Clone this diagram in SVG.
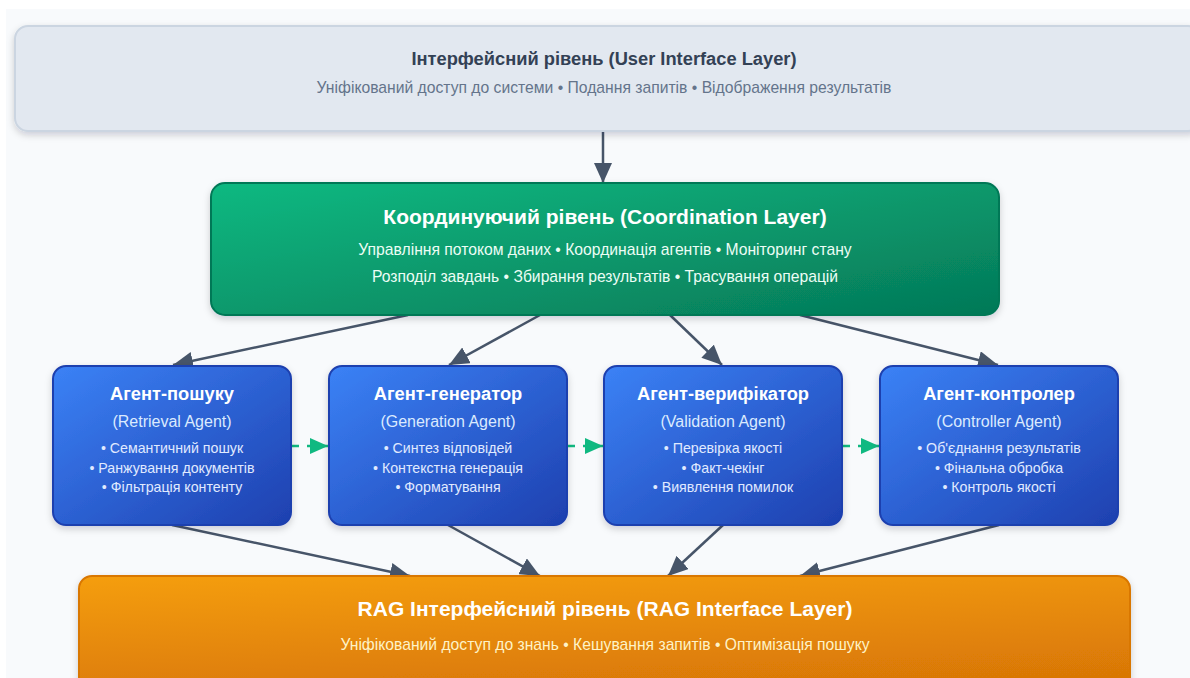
<svg xmlns="http://www.w3.org/2000/svg" width="1190" height="678" viewBox="0 0 1190 678">
  <defs>
    <style>
      .t { font-family: "Liberation Sans", Arial, sans-serif; text-anchor: middle; }
      .ui-title { font-size: 18.3px; font-weight: bold; fill: #334155; }
      .ui-sub { font-size: 15.7px; fill: #64748b; }
      .co-title { font-size: 21px; font-weight: bold; fill: #ffffff; }
      .co-sub { font-size: 15.7px; fill: #ecfdf5; }
      .ag-title { font-size: 18.3px; font-weight: bold; fill: #ffffff; }
      .ag-sub { font-size: 16px; fill: #dbeafe; }
      .ag-item { font-size: 14.2px; fill: #e0eaff; }
      .rag-title { font-size: 21px; font-weight: bold; fill: #ffffff; }
      .rag-sub { font-size: 15.7px; fill: #fef3c7; }
      .flow { stroke: #475569; stroke-width: 2.5; fill: none; marker-end: url(#arrow); }
      .pass { stroke: #10b981; stroke-width: 2.5; fill: none; stroke-dasharray: 8 8; marker-end: url(#arrow-green); }
    </style>
    <linearGradient id="g-green" x1="0" y1="0" x2="1" y2="1">
      <stop offset="0" stop-color="#10b981"/>
      <stop offset="1" stop-color="#047857"/>
    </linearGradient>
    <linearGradient id="g-blue" x1="0" y1="0" x2="1" y2="1">
      <stop offset="0" stop-color="#3b82f6"/>
      <stop offset="1" stop-color="#1e40af"/>
    </linearGradient>
    <linearGradient id="g-orange" x1="0" y1="0" x2="0.3" y2="1">
      <stop offset="0" stop-color="#f59e0b"/>
      <stop offset="1" stop-color="#d97706"/>
    </linearGradient>
    <filter id="shadow" x="-10%" y="-20%" width="120%" height="150%">
      <feDropShadow dx="0" dy="3" stdDeviation="3.5" flood-color="#0f172a" flood-opacity="0.18"/>
    </filter>
    <marker id="arrow" markerUnits="userSpaceOnUse" markerWidth="22" markerHeight="18" refX="20" refY="9" orient="auto">
      <path d="M0,0 L20,9 L0,18 Z" fill="#475569"/>
    </marker>
    <marker id="arrow-green" markerUnits="userSpaceOnUse" markerWidth="20" markerHeight="16" refX="18" refY="8" orient="auto">
      <path d="M0,0 L18,8 L0,16 Z" fill="#10b981"/>
    </marker>
  </defs>

  <!-- canvas -->
  <rect x="0" y="0" width="1190" height="678" fill="#ffffff"/>
  <rect x="6" y="9" width="1184" height="669" fill="#f8fafc"/>

  <!-- connectors -->
  <g id="connectors">
    <line class="flow" x1="603" y1="131" x2="603" y2="183"/>
    <line class="flow" x1="408" y1="315" x2="173" y2="365"/>
    <line class="flow" x1="540" y1="315" x2="449" y2="365"/>
    <line class="flow" x1="670" y1="315" x2="722" y2="365"/>
    <line class="flow" x1="800" y1="315" x2="998" y2="365"/>
    <line class="flow" x1="172" y1="525" x2="410" y2="576"/>
    <line class="flow" x1="448" y1="525" x2="540" y2="576"/>
    <line class="flow" x1="723" y1="525" x2="668" y2="576"/>
    <line class="flow" x1="999" y1="525" x2="800" y2="576"/>
    <line class="pass" x1="291" y1="446" x2="328" y2="446"/>
    <line class="pass" x1="567" y1="446" x2="603" y2="446"/>
    <line class="pass" x1="842" y1="446" x2="879" y2="446"/>
  </g>

  <!-- user interface layer -->
  <g id="ui-layer">
    <rect x="15" y="26" width="1186" height="105" rx="13" fill="#e2e8f0" stroke="#cbd5e1" stroke-width="2" filter="url(#shadow)"/>
    <text class="t ui-title" x="604" y="65">Інтерфейсний рівень (User Interface Layer)</text>
    <text class="t ui-sub" x="604" y="92.5">Уніфікований доступ до системи • Подання запитів • Відображення результатів</text>
  </g>

  <!-- coordination layer -->
  <g id="coordination-layer">
    <rect x="211" y="183" width="788" height="132" rx="14" fill="url(#g-green)" stroke="#047857" stroke-width="2" filter="url(#shadow)"/>
    <text class="t co-title" x="605" y="223.5">Координуючий рівень (Coordination Layer)</text>
    <text class="t co-sub" x="605" y="254.5">Управління потоком даних • Координація агентів • Моніторинг стану</text>
    <text class="t co-sub" x="605" y="281.5">Розподіл завдань • Збирання результатів • Трасування операцій</text>
  </g>

  <!-- agents -->
  <g id="agent-retrieval">
    <rect x="53" y="366" width="238" height="159" rx="13" fill="url(#g-blue)" stroke="#1e40af" stroke-width="2" filter="url(#shadow)"/>
    <text class="t ag-title" x="172" y="399.5">Агент-пошуку</text>
    <text class="t ag-sub" x="172" y="427">(Retrieval Agent)</text>
    <text class="t ag-item" x="172" y="453">• Семантичний пошук</text>
    <text class="t ag-item" x="172" y="472.5">• Ранжування документів</text>
    <text class="t ag-item" x="172" y="492">• Фільтрація контенту</text>
  </g>
  <g id="agent-generation">
    <rect x="329" y="366" width="238" height="159" rx="13" fill="url(#g-blue)" stroke="#1e40af" stroke-width="2" filter="url(#shadow)"/>
    <text class="t ag-title" x="448" y="399.5">Агент-генератор</text>
    <text class="t ag-sub" x="448" y="427">(Generation Agent)</text>
    <text class="t ag-item" x="448" y="453">• Синтез відповідей</text>
    <text class="t ag-item" x="448" y="472.5">• Контекстна генерація</text>
    <text class="t ag-item" x="448" y="492">• Форматування</text>
  </g>
  <g id="agent-validation">
    <rect x="604" y="366" width="238" height="159" rx="13" fill="url(#g-blue)" stroke="#1e40af" stroke-width="2" filter="url(#shadow)"/>
    <text class="t ag-title" x="723" y="399.5">Агент-верифікатор</text>
    <text class="t ag-sub" x="723" y="427">(Validation Agent)</text>
    <text class="t ag-item" x="723" y="453">• Перевірка якості</text>
    <text class="t ag-item" x="723" y="472.5">• Факт-чекінг</text>
    <text class="t ag-item" x="723" y="492">• Виявлення помилок</text>
  </g>
  <g id="agent-controller">
    <rect x="880" y="366" width="238" height="159" rx="13" fill="url(#g-blue)" stroke="#1e40af" stroke-width="2" filter="url(#shadow)"/>
    <text class="t ag-title" x="999" y="399.5">Агент-контролер</text>
    <text class="t ag-sub" x="999" y="427">(Controller Agent)</text>
    <text class="t ag-item" x="999" y="453">• Об'єднання результатів</text>
    <text class="t ag-item" x="999" y="472.5">• Фінальна обробка</text>
    <text class="t ag-item" x="999" y="492">• Контроль якості</text>
  </g>

  <!-- RAG interface layer -->
  <g id="rag-layer">
    <rect x="79" y="576" width="1051" height="125" rx="13" fill="url(#g-orange)" stroke="#d97706" stroke-width="2" filter="url(#shadow)"/>
    <text class="t rag-title" x="605" y="615.5">RAG Інтерфейсний рівень (RAG Interface Layer)</text>
    <text class="t rag-sub" x="605" y="649.5">Уніфікований доступ до знань • Кешування запитів • Оптимізація пошуку</text>
  </g>
</svg>
